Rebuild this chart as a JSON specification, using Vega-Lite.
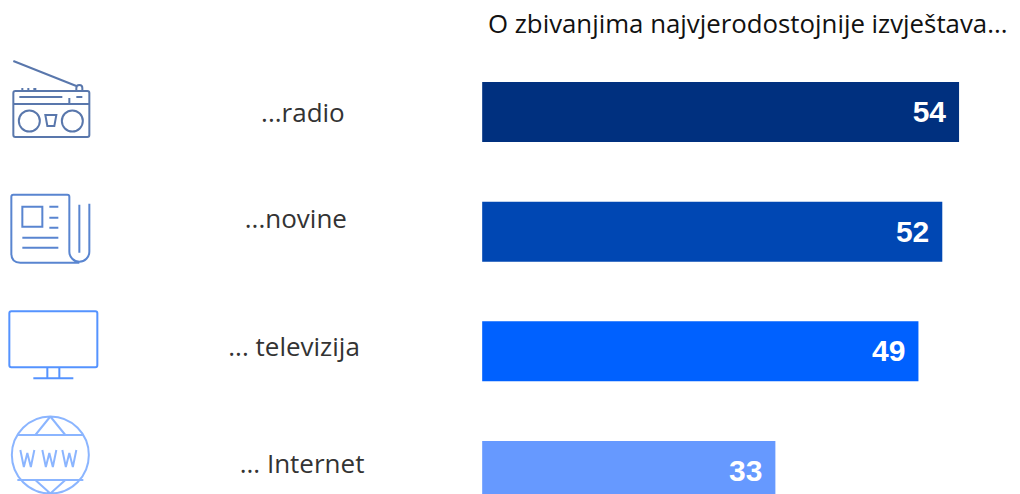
{
"$schema":"https://vega.github.io/schema/vega-lite/v6.json",
"width":1020,"height":494,"padding":0,"autosize":"none","background":"white",
"config":{"view":{"stroke":null}},
"title":{"text":"O zbivanjima najvjerodostojnije  izvještava...","anchor":"start","frame":"group","orient":"top","dx":488,"dy":59,"font":"Open Sans","fontSize":25.8,"fontWeight":"normal","color":"#111111","baseline":"alphabetic","offset":0},
"data":{"values":[
{"medij":"...radio","postotak":54},
{"medij":"...novine","postotak":52.1},
{"medij":"... televizija","postotak":49.4},
{"medij":"... Internet","postotak":33.2}
]},
"encoding":{
"y":{"field":"medij","type":"nominal","sort":null,"axis":null,"scale":{"type":"point","padding":0,"range":[112,471]}}
},
"layer":[
{"mark":{"type":"bar","size":60,"clip":true},
"encoding":{
"x":{"field":"postotak","type":"quantitative","axis":null,"scale":{"domain":[-54.6,60.9],"range":[0,1020],"zero":false,"nice":false}},
"fill":{"field":"medij","type":"nominal","sort":null,"legend":null,"scale":{"range":["#00307f","#0047b3","#0061ff","#6699ff"]}}
}},
{"mark":{"type":"text","align":"right","dx":-13,"dy":1,"baseline":"middle","font":"Liberation Sans","fontSize":30,"fontWeight":"bold","fill":"white"},
"encoding":{
"x":{"field":"postotak","type":"quantitative"},
"text":{"field":"postotak","type":"quantitative","format":".0f"}
}},
{"mark":{"type":"point","filled":false,"size":4,"strokeWidth":2,"opacity":0.8,"fill":null},
"encoding":{
"x":{"datum":-48.9,"type":"quantitative"},
"stroke":{"field":"medij","type":"nominal","sort":null,"legend":null,"scale":{"range":["#2f5597","#2f66c4","#2a78ff","#6ea2ff"]}},
"shape":{"field":"medij","type":"nominal","sort":null,"legend":null,"scale":{"range":[
"M-37 -51L26 -26M26 -21V-24A3 3 0 0 1 32 -24V-21M-35 -21H37Q39 -21 39 -19V23Q39 25 37 25H-35Q-37 25 -37 23V-19Q-37 -21 -35 -21ZM-37 -8H39M-29 -23H-27M-23 -23H-21M-17 -23H-14M-31 -15H12M26 -15H32M19 -14V-8M-31.5 9A10.5 10.5 0 1 0 -10.5 9A10.5 10.5 0 1 0 -31.5 9ZM11.5 9A10.5 10.5 0 1 0 32.5 9A10.5 10.5 0 1 0 11.5 9ZM-5 3H6L4 14H-3Z",
"M29 31H-30Q-39 31 -39 22V-35Q-39 -37 -37 -37H17Q19 -37 19 -35V20A10 10 0 0 0 39 20V-28M29 -27V21M-28 -25H-8V-5H-28ZM-1 -25H8M-1 -14H8M-1 -4H8M-28 6H8M-28 16H8",
"M-39 -40H45Q47 -40 47 -38V14Q47 16 45 16H-39Q-41 16 -41 14V-38Q-41 -40 -39 -40ZM-3 16V27M9 16V27M-17 27H23",
"M-38.5 -16A38.5 38.5 0 1 0 38.5 -16A38.5 38.5 0 1 0 -38.5 -16ZM0 -54.5L-15 -36M0 -54.5L15 -36M-33 -36H33M-33 9H33M-15 9L0 22.5M15 9L0 22.5M-30 -21L-26.5 -4L-23 -18L-19.5 -4L-16 -21M-8 -21L-4.5 -4L-1 -18L2.5 -4L6 -21M12 -21L15.5 -4L19 -18L22.5 -4L26 -21"
]}}
}},
{"transform":[{"filter":"datum.medij === '...radio'"}],
"mark":{"type":"text","align":"center","baseline":"middle","dy":2,"font":"Open Sans","fontSize":26,"fill":"#333333"},
"encoding":{"x":{"datum":-20.3,"type":"quantitative"},"text":{"field":"medij"}}},
{"transform":[{"filter":"datum.medij === '...novine'"}],
"mark":{"type":"text","align":"center","baseline":"middle","dy":-12,"font":"Open Sans","fontSize":26,"fill":"#333333"},
"encoding":{"x":{"datum":-21.1,"type":"quantitative"},"text":{"field":"medij"}}},
{"transform":[{"filter":"datum.medij === '... televizija'"}],
"mark":{"type":"text","align":"center","baseline":"middle","dy":-3,"font":"Open Sans","fontSize":26,"fill":"#333333"},
"encoding":{"x":{"datum":-21.3,"type":"quantitative"},"text":{"field":"medij"}}},
{"transform":[{"filter":"datum.medij === '... Internet'"}],
"mark":{"type":"text","align":"center","baseline":"middle","dy":-6,"font":"Open Sans","fontSize":26,"fill":"#333333"},
"encoding":{"x":{"datum":-20.4,"type":"quantitative"},"text":{"field":"medij"}}}
]
}
